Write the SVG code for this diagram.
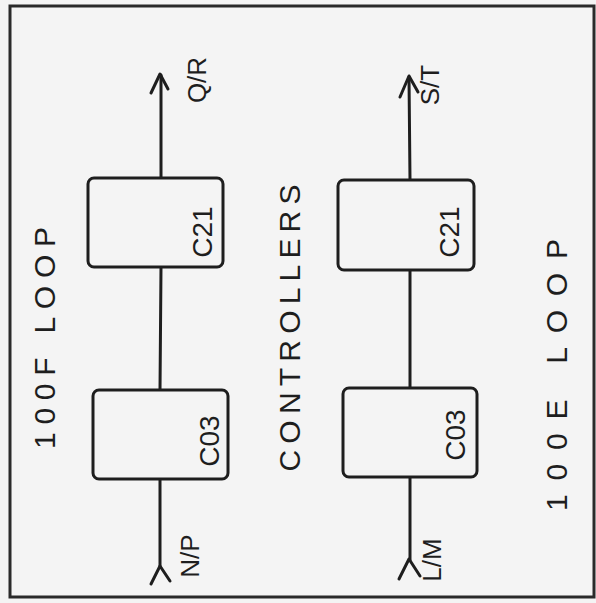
<svg xmlns="http://www.w3.org/2000/svg" width="596" height="603" viewBox="0 0 596 603">
<style>
.ln{stroke:#1e1e1e;stroke-width:3;fill:none;stroke-linecap:round;stroke-linejoin:round}
.box{stroke:#1e1e1e;stroke-width:3;fill:#f4f4f4}
.t{font-family:"Liberation Sans",Arial,sans-serif;fill:#1e1e1e;text-anchor:middle}
</style>
<rect x="0" y="0" width="596" height="603" fill="#f4f4f4"/>
<rect x="10" y="6" width="584" height="591" fill="none" stroke="#2a2a2a" stroke-width="3"/>
<g id="connectors">
<line class="ln" x1="161" y1="75" x2="161" y2="178"/>
<line class="ln" x1="161" y1="267" x2="160" y2="390"/>
<line class="ln" x1="160" y1="479" x2="160" y2="566"/>
<polyline class="ln" points="151,93 160,74 168,89"/>
<polyline class="ln" points="151,584 160,566 170,581"/>
<line class="ln" x1="409" y1="77" x2="410" y2="180"/>
<line class="ln" x1="410" y1="270" x2="410" y2="388"/>
<line class="ln" x1="410" y1="477" x2="410" y2="560"/>
<polyline class="ln" points="400,97 409,76 418,92"/>
<polyline class="ln" points="399,579 409,559 420,576"/>
</g>
<g id="left-c21"><rect class="box" x="88" y="178" width="135" height="89" rx="6"/><text class="t" font-size="28" transform="translate(202,232) rotate(-90)" y="10">C21</text></g>
<g id="left-c03"><rect class="box" x="93" y="390" width="135" height="89" rx="6"/><text class="t" font-size="28" transform="translate(209,441) rotate(-90)" y="10">C03</text></g>
<g id="right-c21"><rect class="box" x="338" y="180" width="136" height="90" rx="6"/><text class="t" font-size="28" transform="translate(449,232) rotate(-90)" y="10">C21</text></g>
<g id="right-c03"><rect class="box" x="343" y="388" width="134" height="89" rx="6"/><text class="t" font-size="28" transform="translate(455,435) rotate(-90)" y="10">C03</text></g>
<g id="labels">
<text class="t" font-size="26" transform="translate(197,80) rotate(-90)" y="9">Q/R</text>
<text class="t" font-size="26" transform="translate(430,85) rotate(-90)" y="9">S/T</text>
<text class="t" font-size="26" transform="translate(190,556) rotate(-90)" y="9">N/P</text>
<text class="t" font-size="26" transform="translate(432,560) rotate(-90)" y="9">L/M</text>
<text class="t" font-size="30" transform="translate(289,328) rotate(-90)" y="11" textLength="287" lengthAdjust="spacing">CONTROLLERS</text>
<text class="t" font-size="30" transform="translate(44,338) rotate(-90)" y="11" textLength="222" lengthAdjust="spacing">100F LOOP</text>
<text class="t" font-size="30" transform="translate(556,375) rotate(-90)" y="11" textLength="272" lengthAdjust="spacing">100E LOOP</text>
</g>
</svg>
